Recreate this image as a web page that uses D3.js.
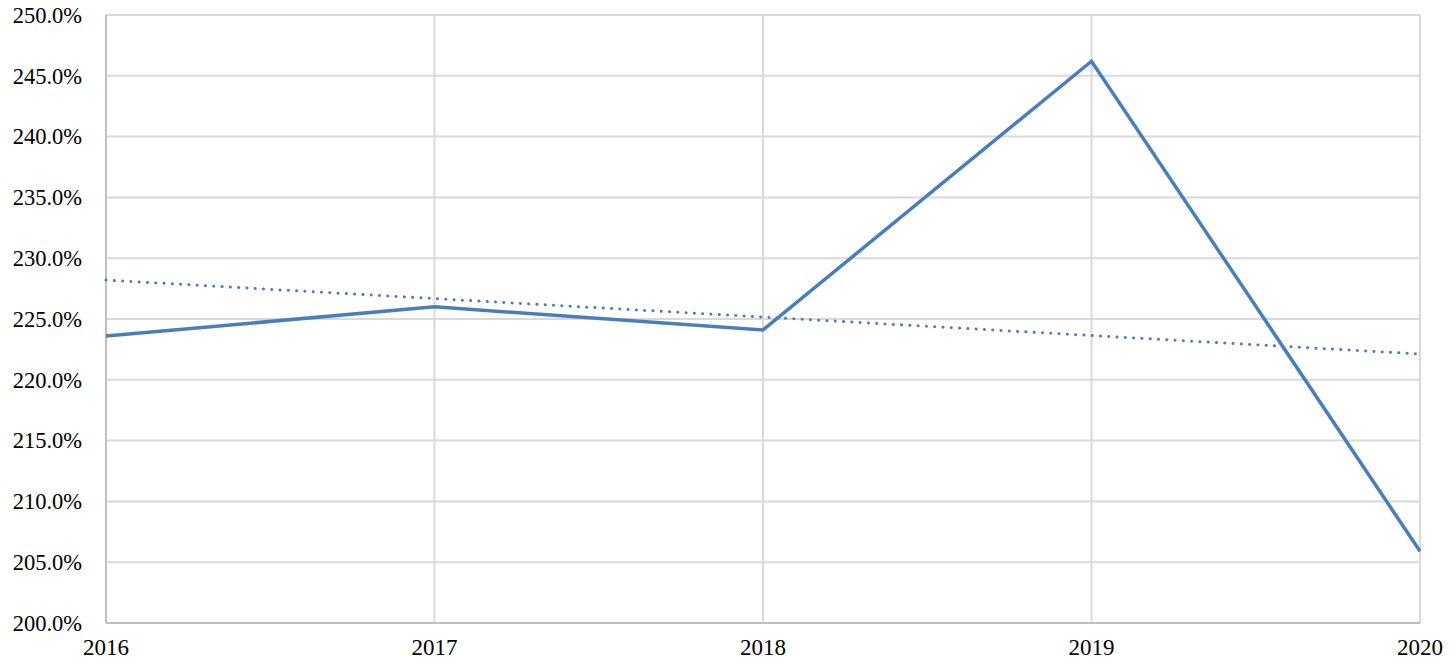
<!DOCTYPE html>
<html>
<head>
<meta charset="utf-8">
<script src="https://cdn.jsdelivr.net/npm/d3@7"></script>
<style>
  body { margin: 0; background: #fff; }
  svg { display: block; }
</style>
</head>
<body>
<svg></svg>
<script>
// data
const years = [2016, 2017, 2018, 2019, 2020];
const ratio = [223.6, 226.0, 224.1, 246.2, 205.9];
const yTicks = [200, 205, 210, 215, 220, 225, 230, 235, 240, 245, 250];

const width = 1454;
const height = 665;
const plotLeft = 106, plotRight = 1420, plotTop = 15, plotBottom = 623;

const svg = d3.select('svg')
  .attr('width', width)
  .attr('height', height);

const x = d3.scaleLinear().domain([2016, 2020]).range([plotLeft, plotRight]);
const y = d3.scaleLinear().domain([200, 250]).range([plotBottom, plotTop]);

// horizontal gridlines
svg.selectAll('.hgrid').data(yTicks)
  .enter()
  .append('line')
  .attr('class', 'hgrid')
  .attr('x1', plotLeft)
  .attr('x2', plotRight)
  .attr('y1', d => y(d))
  .attr('y2', d => y(d))
  .attr('stroke', '#d9d9d9')
  .attr('stroke-width', 2);

// vertical gridlines
svg.selectAll('.vgrid').data(years)
  .enter()
  .append('line')
  .attr('class', 'vgrid')
  .attr('x1', d => x(d))
  .attr('x2', d => x(d))
  .attr('y1', plotTop)
  .attr('y2', plotBottom)
  .attr('stroke', '#d9d9d9')
  .attr('stroke-width', 2);

// axes lines
svg.append('line')
  .attr('x1', plotLeft).attr('x2', plotLeft)
  .attr('y1', plotTop).attr('y2', plotBottom)
  .attr('stroke', '#bfbfbf').attr('stroke-width', 2);
svg.append('line')
  .attr('x1', plotLeft).attr('x2', plotRight)
  .attr('y1', plotBottom).attr('y2', plotBottom)
  .attr('stroke', '#bfbfbf').attr('stroke-width', 2);

// y labels
svg.selectAll('.ylab').data(yTicks)
  .enter()
  .append('text')
  .attr('class', 'ylab')
  .attr('x', 82)
  .attr('y', d => y(d))
  .attr('dy', '0.35em')
  .attr('text-anchor', 'end')
  .attr('font-family', '"Liberation Serif", "Times New Roman", serif')
  .attr('font-size', '22.5px')
  .attr('fill', '#000')
  .text(d => d.toFixed(1) + '%');

// x labels
svg.selectAll('.xlab').data(years)
  .enter()
  .append('text')
  .attr('class', 'xlab')
  .attr('x', d => x(d))
  .attr('y', 655)
  .attr('text-anchor', 'middle')
  .attr('font-family', '"Liberation Serif", "Times New Roman", serif')
  .attr('font-size', '23px')
  .attr('fill', '#000')
  .text(d => d);

// linear trend (least squares over the series)
const mx = d3.mean(years), my = d3.mean(ratio);
const slope = d3.sum(years, (d, i) => (d - mx) * (ratio[i] - my)) / d3.sum(years, d => (d - mx) ** 2);
const trend = years.map(d => my + slope * (d - mx));

const line = d3.line()
  .x((d, i) => x(years[i]))
  .y(d => y(d));

svg.append('path')
  .datum(trend)
  .attr('d', line)
  .attr('fill', 'none')
  .attr('stroke', '#4a7ebb')
  .attr('stroke-width', 3)
  .attr('stroke-linecap', 'round')
  .attr('stroke-dasharray', '0.1,8.2');

svg.append('path')
  .datum(ratio)
  .attr('d', line)
  .attr('fill', 'none')
  .attr('stroke', '#4a7ebb')
  .attr('stroke-width', 3.5)
  .attr('stroke-linejoin', 'miter');
</script>
</body>
</html>
